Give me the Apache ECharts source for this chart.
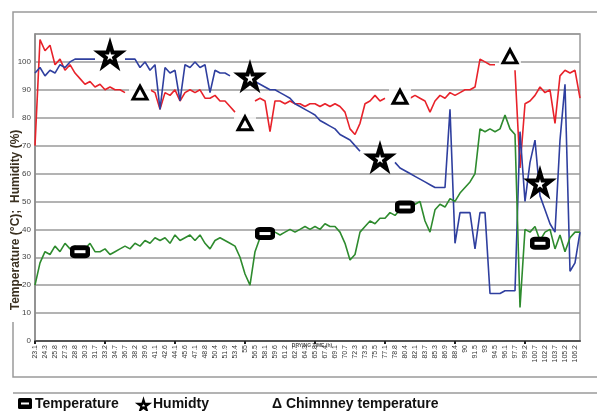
<!DOCTYPE html>
<html><head><meta charset="utf-8">
<script src="https://cdn.jsdelivr.net/npm/echarts@6/dist/echarts.min.js"></script>
<style>html,body{margin:0;padding:0;background:#fff}#c{width:597px;height:411px}</style>
</head><body><div id="c"></div>
<script>
const timeLabels = ['23.1','24.3','25.8','27.3','28.8','30.3','31.7','33.2','34.7','36.7','38.2','39.6','41.1','42.6','44.1','45.6','47.1','48.8','50.4','51.9','53.4','55','56.5','58.1','59.6','61.2','62.7','64.3','65.8','67.4','69.1','70.7','72.3','73.5','75.5','77.1','78.8','80.4','82.1','83.7','85.3','86.9','88.4','90','91.5','93','94.5','96.1','97.7','99.2','100.7','102.2','103.7','105.2','106.2'];

const chimney = [70,108,104,106,99,101,97,99,96,94, 92,93,91,92,90,91,90,90,89,null, null,null,null,90,89,83,89,88,90,86, 89,90,89,90,87,87,88,86,86,84, 82,null,null,null,86,87,86,75,86,86, 85,86,85,85,84,85,85,84,85,84, 85,84,82,76,74,78,85,86,88,86, 87,null,null,null,null,87,88,87,86,82, 86,88,87,89,88,89,90,90,91,101, 100,99,99,null,null,null,97,62,85,86, 88,91,89,90,78,95,97,96,97,87];

const humidity = [96,98,95,97,96,99,98,100,101,101, 101,101,101,null,null,null,null,null,101,101, 101,98,100,97,99,83,98,96,97,86, 99,98,100,98,99,89,97,96,96,95, null,null,null,null,93,92,91,90,90,89, 88,87,85,84,83,82,81,79,78,77, 76,74,73,72,70,68,null,null,null,null, null,null,64,62,61,60,59,58,57,56, 55,55,55,83,35,46,46,46,33,46, 46,17,17,17,18,18,18,75,50,64, 72,52,47,42,39,72,92,25,28,39];

const temperature = [20,28,32,31,34,32,35,33,34,32, 33,35,32,32,33,31,32,33,34,33, 35,34,36,35,37,36,37,35,38,36, 37,38,36,38,35,33,36,37,36,35, 34,30,24,20,32,37,38,38,39,38, 39,40,39,40,41,40,41,40,42,41, 41,39,35,29,31,39,41,43,42,44, 44,46,45,47,48,47,49,50,43,39, 47,49,48,51,50,53,55,57,60,76, 75,76,75,76,81,76,74,12,40,39, 41,36,39,40,33,38,32,37,39,39];

const tempMarks = [[9,32],[46,38.5],[74,48],[101,35]];
const humMarks = [[15,102.5],[43,94.6],[69,65.6],[101,56.6]];
const chimMarks = [[21,89],[42,78],[73,87.5],[95,102]];

const yTicks = [0,10,20,30,40,50,60,70,80,90,100];

const cats = [];
timeLabels.forEach(l => { cats.push(l); cats.push(' '); });

const starPath = 'path://M50,0 L61,35 L98,35 L68,57 L79,91 L50,70 L21,91 L32,57 L2,35 L39,35 Z';
const starPts = [[50,0],[61,35],[98,35],[68,57],[79,91],[50,70],[21,91],[32,57],[2,35],[39,35]].map(p => [138 + p[0]*0.11, 400 + p[1]*0.11]);

const chart = echarts.init(document.getElementById('c'), null, {renderer:'canvas'});
const lineBase = {type:'line', showSymbol:false, symbol:'none', connectNulls:false, animation:false, z:2};
chart.setOption({
  animation:false,
  grid:{left:35,right:17,top:34,bottom:70,show:true,borderColor:'#9a9a9a',borderWidth:1.5,backgroundColor:'transparent'},
  xAxis:{type:'category',data:cats,boundaryGap:false,
    axisLine:{lineStyle:{color:'#555',width:2}},
    axisTick:{show:true,interval:13,length:3,inside:false,lineStyle:{color:'#222',width:2}},
    axisLabel:{interval:1,rotate:90,fontSize:7,color:'#333',margin:4,fontFamily:'Liberation Sans'},
    splitLine:{show:false}},
  yAxis:{type:'value',min:0,max:110,interval:10,
    axisLine:{show:true,lineStyle:{color:'#888',width:1.5}},
    axisTick:{show:false},
    axisLabel:{fontSize:8,color:'#444',margin:4,fontFamily:'Liberation Sans',
      formatter:v => yTicks.indexOf(v) >= 0 ? String(v) : ''},
    splitLine:{lineStyle:{color:'#9a9a9a',width:1.5}}},
  series:[
    Object.assign({name:'Chimney temperature',data:chimney,lineStyle:{color:'#e8222a',width:1.6},itemStyle:{color:'#e8222a'}},lineBase),
    Object.assign({name:'Humidity',data:humidity,lineStyle:{color:'#2f3f9f',width:1.6},itemStyle:{color:'#2f3f9f'}},lineBase),
    Object.assign({name:'Temperature',data:temperature,lineStyle:{color:'#2e8b2e',width:1.6},itemStyle:{color:'#2e8b2e'}},lineBase),
    {type:'scatter',data:chimMarks,symbol:'rect',symbolSize:[22,20],itemStyle:{color:'#fff'},z:5,silent:true},
    {type:'scatter',data:chimMarks,symbol:'triangle',symbolSize:[14,13],itemStyle:{color:'#fff',borderColor:'#000',borderWidth:3,opacity:1},z:6,silent:true},
    {type:'scatter',data:humMarks,symbol:starPath,symbolSize:22,itemStyle:{color:'#fff',borderColor:'#000',borderWidth:4,opacity:1},z:6,silent:true},
    {type:'scatter',data:tempMarks,symbol:'roundRect',symbolSize:[20,13],itemStyle:{color:'#000',opacity:1},z:6,silent:true},
    {type:'scatter',data:tempMarks,symbol:'rect',symbolSize:[11,3],itemStyle:{color:'#fff',opacity:1},z:7,silent:true}
  ],
  graphic:[
    {type:'rect',shape:{x:13,y:12,width:600,height:365},style:{fill:'none',stroke:'#9a9a9a',lineWidth:1.5},z:-1,silent:true},
    {type:'line',shape:{x1:13,y1:393,x2:597,y2:393},style:{stroke:'#9a9a9a',lineWidth:1.5},silent:true},
    {type:'rect',shape:{x:6,y:118,width:18,height:204},style:{fill:'#fff'},z:0,silent:true},
    {type:'text',x:16,y:220,rotation:Math.PI/2,style:{text:'Temperature (°C);  Humidity (%)',fill:'#3a3020',font:'bold 12px "Liberation Sans", Arial',textAlign:'center',textVerticalAlign:'middle'},z:10,silent:true},
    {type:'text',x:312,y:346,style:{text:'DRYING TIME (h)',fill:'#555',font:'bold 5px "Liberation Sans", Arial',textAlign:'center',textVerticalAlign:'middle'},silent:true},
    {type:'rect',shape:{x:18,y:398,width:14,height:11,r:1.5},style:{fill:'#000'},silent:true},
    {type:'rect',shape:{x:21,y:402.5,width:8,height:2},style:{fill:'#fff'},silent:true},
    {type:'text',x:35,y:397,style:{text:'Temperature',fill:'#111',font:'bold 14px "Liberation Sans", Arial',textVerticalAlign:'top'},silent:true},
    {type:'polygon',shape:{points:starPts},style:{fill:'#fff',stroke:'#000',lineWidth:2.2},silent:true},
    {type:'text',x:153,y:397,style:{text:'Humidty',fill:'#111',font:'bold 14px "Liberation Sans", Arial',textVerticalAlign:'top'},silent:true},
    {type:'text',x:272,y:397,style:{text:'Δ Chimnney temperature',fill:'#111',font:'bold 14px "Liberation Sans", Arial',textVerticalAlign:'top'},silent:true}
  ]
});
</script></body></html>
